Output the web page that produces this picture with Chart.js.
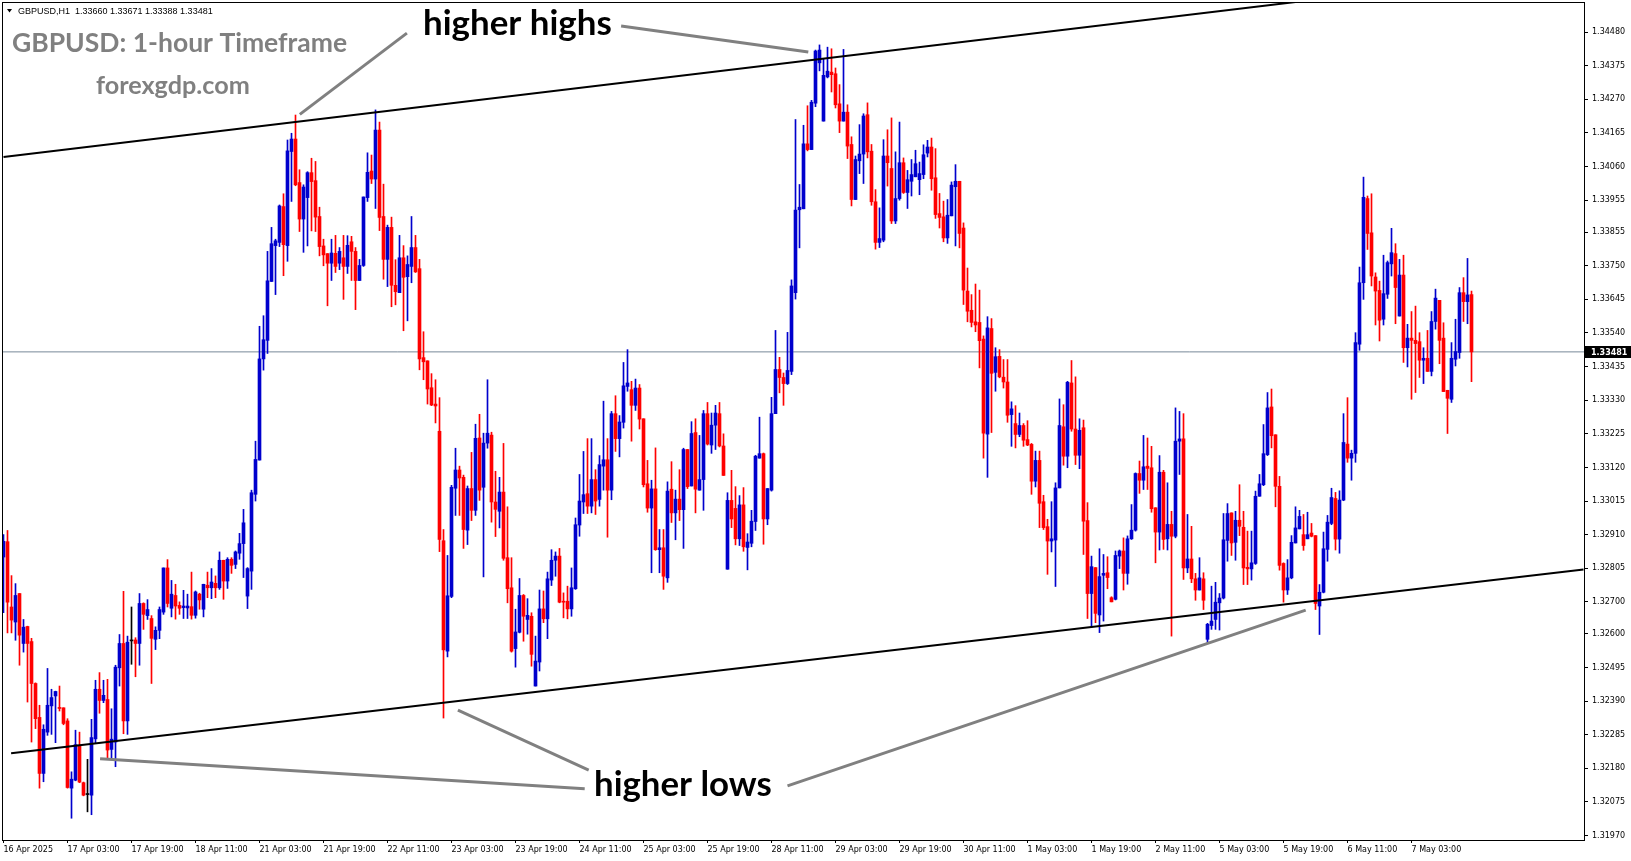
<!DOCTYPE html>
<html>
<head>
<meta charset="utf-8">
<title>GBPUSD H1</title>
<script src="https://cdn.jsdelivr.net/npm/chart.js@4.4.1/dist/chart.umd.min.js"></script>
<style>
  html, body { margin: 0; padding: 0; background: #ffffff; }
  #wrap { width: 1631px; height: 861px; position: relative; }
</style>
</head>
<body>
<div id="wrap"><canvas id="chart"></canvas></div>
<script>
// ---- chart data ----
var symbolName = "GBPUSD";
var timeframe = "H1";
var labelStep = 16; // bars between two time labels

var timeLabels = ["16 Apr 2025", "17 Apr 03:00", "17 Apr 19:00", "18 Apr 11:00", "21 Apr 03:00",
  "21 Apr 19:00", "22 Apr 11:00", "23 Apr 03:00", "23 Apr 19:00", "24 Apr 11:00", "25 Apr 03:00",
  "25 Apr 19:00", "28 Apr 11:00", "29 Apr 03:00", "29 Apr 19:00", "30 Apr 11:00", "1 May 03:00",
  "1 May 19:00", "2 May 11:00", "5 May 03:00", "5 May 19:00", "6 May 11:00", "7 May 03:00"];

var priceTicks = [1.34480, 1.34375, 1.34270, 1.34165, 1.34060, 1.33955, 1.33855, 1.33750, 1.33645,
  1.33540, 1.33435, 1.33330, 1.33225, 1.33120, 1.33015, 1.32910, 1.32805, 1.32700, 1.32600,
  1.32495, 1.32390, 1.32285, 1.32180, 1.32075, 1.31970];

var opens = [
  1.32840,1.32888,1.32684,1.32637,1.32726,1.32570,1.32623,1.32576,1.32445,1.32339,1.32164,1.32293,1.32375,1.32406,1.32369,1.32369,
  1.32328,1.32118,1.32143,1.32250,1.32135,1.32098,1.32096,1.32272,1.32427,1.32392,1.32395,1.32239,1.32262,1.32494,1.32570,1.32328,
  1.32578,1.32581,1.32570,1.32695,1.32657,1.32648,1.32583,1.32611,1.32668,1.32806,1.32680,1.32720,1.32689,1.32682,1.32681,1.32685,
  1.32658,1.32724,1.32677,1.32752,1.32744,1.32758,1.32744,1.32830,1.32765,1.32833,1.32817,1.32852,1.32882,1.32718,1.32796,1.33036,
  1.33143,1.33459,1.33517,1.33701,1.33813,1.33823,1.33935,1.33813,1.34107,1.34146,1.34010,1.33896,1.33963,1.34041,1.34016,1.33904,
  1.33812,1.33788,1.33758,1.33789,1.33758,1.33775,1.33748,1.33825,1.33795,1.33704,1.33751,1.33963,1.34046,1.34021,1.34174,1.33904,
  1.33770,1.33870,1.33689,1.33666,1.33775,1.33716,1.33748,1.33807,1.33741,1.33463,1.33453,1.33369,1.33318,1.33233,1.32891,1.32546,
  1.32717,1.33055,1.33112,1.33089,1.32924,1.33054,1.32986,1.33212,1.33058,1.33196,1.33221,1.33012,1.32983,1.33043,1.32838,1.32744,
  1.32554,1.32605,1.32720,1.32645,1.32655,1.32437,1.32512,1.32678,1.32647,1.32768,1.32830,1.32843,1.32702,1.32702,1.32678,1.32741,
  1.32940,1.33012,1.33038,1.32999,1.33082,1.33020,1.33124,1.33144,1.33049,1.33288,1.33210,1.33261,1.33373,1.33363,1.33314,1.33368,
  1.33272,1.33069,1.32993,1.33053,1.32863,1.32869,1.32775,1.33052,1.32978,1.33021,1.32988,1.33176,1.33062,1.33229,1.33049,1.33082,
  1.33288,1.33190,1.33252,1.33288,1.33187,1.32802,1.33017,1.32992,1.32897,1.33003,1.32870,1.32883,1.32951,1.33149,1.33163,1.32959,
  1.33049,1.33288,1.33426,1.33401,1.33382,1.33420,1.33666,1.33925,1.33928,1.34131,1.34113,1.34258,1.34384,1.34202,1.34340,1.34355,
  1.34350,1.34256,1.34202,1.34230,1.34129,1.33957,1.34078,1.34099,1.34222,1.34108,1.33950,1.33823,1.33830,1.34093,1.34054,1.33890,
  1.33960,1.34072,1.33979,1.34014,1.34028,1.34019,1.34035,1.34102,1.34121,1.34025,1.33913,1.33903,1.33837,1.33906,1.33997,1.34014,
  1.33868,1.33671,1.33611,1.33575,1.33573,1.33521,1.33224,1.33554,1.33417,1.33467,1.33402,1.33387,1.33285,1.33257,1.33223,1.33251,
  1.33207,1.33192,1.33077,1.33142,1.33013,1.32935,1.32890,1.32893,1.33056,1.33247,1.33155,1.33384,1.33240,1.33158,1.33244,1.32954,
  1.32726,1.32807,1.32659,1.32783,1.32791,1.32713,1.32708,1.32843,1.32859,1.32789,1.32897,1.32924,1.33101,1.33080,1.33124,1.33119,
  1.32994,1.32918,1.33105,1.32897,1.32942,1.32905,1.33202,1.33209,1.32806,1.32834,1.32772,1.32737,1.32772,1.32583,1.32626,1.32645,
  1.32697,1.32712,1.32892,1.32978,1.32886,1.32955,1.32933,1.32808,1.32803,1.32820,1.33030,1.33066,1.33160,1.33309,1.33222,1.33061,
  1.32820,1.32737,1.32775,1.32884,1.32928,1.32910,1.32897,1.32915,1.32907,1.32687,1.32730,1.32864,1.32945,1.33023,1.32896,1.33018,
  1.33193,1.33149,1.33164,1.33505,1.33697,1.33960,1.33853,1.33715,1.33673,1.33583,1.33661,1.33756,1.33788,1.33593,1.33721,1.33494,
  1.33524,1.33517,1.33513,1.33455,1.33461,1.33420,1.33576,1.33642,1.33524,1.33361,1.33333,1.33458,1.33479,1.33666,1.33638,1.33660
];

var highs = [
  1.32910,1.32923,1.32782,1.32757,1.32726,1.32645,1.32624,1.32586,1.32447,1.32377,1.32316,1.32492,1.32427,1.32421,1.32437,1.32369,
  1.32335,1.32169,1.32299,1.32293,1.32137,1.32208,1.32333,1.32455,1.32479,1.32455,1.32458,1.32366,1.32502,1.32598,1.32733,1.32593,
  1.32684,1.32588,1.32726,1.32697,1.32707,1.32657,1.32622,1.32684,1.32806,1.32832,1.32767,1.32755,1.32700,1.32736,1.32724,1.32793,
  1.32734,1.32727,1.32755,1.32793,1.32804,1.32781,1.32856,1.32830,1.32838,1.32838,1.32859,1.32914,1.32989,1.32807,1.33049,1.33202,
  1.33561,1.33594,1.33795,1.33870,1.33833,1.33940,1.33975,1.34143,1.34164,1.34221,1.34050,1.34003,1.34044,1.34086,1.34076,1.33933,
  1.33833,1.33788,1.33833,1.33845,1.33807,1.33845,1.33844,1.33842,1.33807,1.33770,1.33965,1.34103,1.34096,1.34237,1.34199,1.34005,
  1.33877,1.33902,1.33769,1.33845,1.33813,1.33781,1.33904,1.33845,1.33770,1.33544,1.33453,1.33413,1.33394,1.33338,1.32926,1.32845,
  1.33064,1.33180,1.33124,1.33096,1.33062,1.33167,1.33255,1.33286,1.33227,1.33394,1.33230,1.33108,1.33089,1.33195,1.32997,1.32838,
  1.32677,1.32773,1.32723,1.32710,1.32666,1.32593,1.32737,1.32734,1.32793,1.32863,1.32856,1.32867,1.32728,1.32749,1.32806,1.32962,
  1.33098,1.33170,1.33210,1.33210,1.33113,1.33157,1.33327,1.33210,1.33295,1.33344,1.33282,1.33448,1.33488,1.33389,1.33396,1.33379,
  1.33272,1.33142,1.33080,1.33181,1.32926,1.32926,1.33075,1.33138,1.33049,1.33113,1.33180,1.33176,1.33263,1.33272,1.33220,1.33298,
  1.33323,1.33290,1.33314,1.33323,1.33225,1.33041,1.33111,1.33060,1.33032,1.33057,1.32913,1.32986,1.33158,1.33277,1.33165,1.33054,
  1.33339,1.33548,1.33464,1.33415,1.33542,1.33706,1.34207,1.34004,1.34189,1.34250,1.34267,1.34424,1.34440,1.34397,1.34433,1.34428,
  1.34368,1.34316,1.34426,1.34253,1.34153,1.34093,1.34191,1.34225,1.34259,1.34129,1.33988,1.33931,1.34144,1.34175,1.34212,1.34106,
  1.34199,1.34087,1.34048,1.34082,1.34111,1.34074,1.34128,1.34142,1.34149,1.34116,1.33976,1.33952,1.33957,1.34012,1.34066,1.34014,
  1.33884,1.33743,1.33660,1.33693,1.33674,1.33531,1.33591,1.33585,1.33494,1.33488,1.33457,1.33457,1.33325,1.33313,1.33290,1.33257,
  1.33266,1.33195,1.33171,1.33171,1.33033,1.32958,1.33013,1.33072,1.33334,1.33316,1.33389,1.33454,1.33403,1.33272,1.33268,1.33010,
  1.32843,1.32807,1.32866,1.32848,1.32841,1.32716,1.32859,1.32862,1.32900,1.32906,1.33004,1.33103,1.33140,1.33220,1.33212,1.33186,
  1.32994,1.33157,1.33111,1.33072,1.32983,1.33306,1.33295,1.33288,1.32973,1.32936,1.32789,1.32838,1.32791,1.32633,1.32749,1.32761,
  1.32726,1.32976,1.33007,1.32978,1.32983,1.33066,1.32983,1.32921,1.32921,1.33046,1.33098,1.33254,1.33354,1.33365,1.33222,1.33092,
  1.32822,1.32832,1.32907,1.32997,1.32986,1.32973,1.32980,1.32945,1.32907,1.32754,1.32918,1.32970,1.33055,1.33042,1.33047,1.33288,
  1.33338,1.33174,1.33541,1.33746,1.34027,1.33968,1.33975,1.33728,1.33702,1.33783,1.33765,1.33867,1.33819,1.33770,1.33783,1.33567,
  1.33607,1.33624,1.33541,1.33494,1.33548,1.33607,1.33677,1.33642,1.33572,1.33361,1.33510,1.33583,1.33682,1.33713,1.33773,1.33671
];

var lows = [
  1.32666,1.32603,1.32603,1.32580,1.32502,1.32543,1.32387,1.32262,1.32304,1.32118,1.32138,1.32283,1.32286,1.32260,1.32359,1.32316,
  1.32118,1.32024,1.32141,1.32135,1.32094,1.32044,1.32035,1.32258,1.32352,1.32385,1.32213,1.32210,1.32185,1.32437,1.32288,1.32286,
  1.32505,1.32466,1.32502,1.32614,1.32645,1.32445,1.32551,1.32585,1.32661,1.32684,1.32653,1.32646,1.32661,1.32648,1.32648,1.32646,
  1.32649,1.32677,1.32653,1.32713,1.32710,1.32713,1.32739,1.32708,1.32742,1.32789,1.32804,1.32833,1.32776,1.32679,1.32739,1.33015,
  1.33143,1.33424,1.33476,1.33701,1.33660,1.33810,1.33719,1.33764,1.33951,1.34000,1.33857,1.33792,1.33812,1.33859,1.33857,1.33781,
  1.33750,1.33625,1.33704,1.33729,1.33738,1.33645,1.33726,1.33704,1.33613,1.33704,1.33748,1.33951,1.34007,1.33929,1.33860,1.33708,
  1.33685,1.33622,1.33628,1.33666,1.33547,1.33578,1.33697,1.33729,1.33425,1.33394,1.33318,1.33313,1.33259,1.32857,1.32337,1.32528,
  1.32713,1.32970,1.32970,1.32867,1.32879,1.32954,1.32970,1.33017,1.32778,1.33180,1.32949,1.32904,1.32931,1.32830,1.32697,1.32543,
  1.32496,1.32603,1.32577,1.32599,1.32499,1.32437,1.32484,1.32635,1.32585,1.32751,1.32780,1.32697,1.32650,1.32647,1.32655,1.32739,
  1.32905,1.32976,1.32976,1.32978,1.32973,1.32999,1.33049,1.32902,1.33019,1.33170,1.33153,1.33243,1.33358,1.33202,1.33298,1.33240,
  1.33059,1.32980,1.32791,1.32861,1.32791,1.32739,1.32761,1.32948,1.32894,1.32954,1.32867,1.33054,1.33062,1.32978,1.33049,1.32986,
  1.33190,1.33164,1.33176,1.33184,1.33095,1.32802,1.32932,1.32878,1.32876,1.32858,1.32800,1.32872,1.32923,1.33149,1.32880,1.32941,
  1.33046,1.33288,1.33353,1.33314,1.33379,1.33410,1.33646,1.33806,1.33928,1.34109,1.34113,1.34247,1.34359,1.34202,1.34337,1.34293,
  1.34243,1.34166,1.34202,1.34085,1.33937,1.33957,1.34038,1.34007,1.34087,1.33939,1.33802,1.33807,1.33825,1.33999,1.33882,1.33882,
  1.33955,1.33976,1.33929,1.33968,1.34028,1.33972,1.34022,1.34090,1.33986,1.33898,1.33868,1.33825,1.33820,1.33906,1.33812,1.33806,
  1.33629,1.33575,1.33559,1.33544,1.33431,1.33149,1.33089,1.33229,1.33358,1.33400,1.33368,1.33261,1.33186,1.33181,1.33216,1.33186,
  1.33188,1.33036,1.33059,1.32932,1.32926,1.32786,1.32856,1.32748,1.33056,1.33127,1.33119,1.33233,1.33129,1.33116,1.32848,1.32648,
  1.32620,1.32635,1.32604,1.32640,1.32741,1.32700,1.32706,1.32804,1.32737,1.32755,1.32895,1.32921,1.33039,1.33051,1.33051,1.32980,
  1.32822,1.32862,1.32864,1.32862,1.32593,1.32900,1.33098,1.32770,1.32791,1.32760,1.32705,1.32737,1.32676,1.32572,1.32614,1.32614,
  1.32612,1.32709,1.32827,1.32845,1.32830,1.32907,1.32754,1.32754,1.32768,1.32817,1.33030,1.33063,1.33157,1.33181,1.32997,1.32799,
  1.32699,1.32723,1.32772,1.32884,1.32928,1.32861,1.32897,1.32903,1.32676,1.32598,1.32728,1.32827,1.32941,1.32862,1.32852,1.33016,
  1.33136,1.33080,1.33136,1.33486,1.33645,1.33801,1.33687,1.33565,1.33515,1.33565,1.33648,1.33718,1.33569,1.33593,1.33448,1.33434,
  1.33333,1.33354,1.33401,1.33382,1.33420,1.33406,1.33552,1.33444,1.33357,1.33226,1.33323,1.33437,1.33461,1.33576,1.33569,1.33388
];

var closes = [
  1.32889,1.32699,1.32643,1.32720,1.32596,1.32621,1.32570,1.32445,1.32335,1.32164,1.32302,1.32377,1.32401,1.32420,1.32367,1.32320,
  1.32120,1.32146,1.32254,1.32137,1.32096,1.32098,1.32276,1.32427,1.32392,1.32408,1.32237,1.32271,1.32496,1.32570,1.32328,1.32574,
  1.32578,1.32570,1.32695,1.32661,1.32676,1.32586,1.32611,1.32676,1.32806,1.32695,1.32724,1.32687,1.32680,1.32687,1.32687,1.32658,
  1.32731,1.32706,1.32755,1.32744,1.32762,1.32744,1.32830,1.32765,1.32833,1.32814,1.32856,1.32882,1.32947,1.32804,1.33041,1.33145,
  1.33459,1.33519,1.33703,1.33819,1.33828,1.33937,1.33816,1.34109,1.34146,1.34003,1.33896,1.33996,1.34041,1.34013,1.33902,1.33810,
  1.33784,1.33758,1.33790,1.33748,1.33795,1.33748,1.33814,1.33795,1.33704,1.33751,1.33965,1.34042,1.34021,1.34174,1.33901,1.33770,
  1.33870,1.33689,1.33669,1.33775,1.33714,1.33754,1.33807,1.33731,1.33459,1.33450,1.33365,1.33315,1.33312,1.32895,1.32550,1.32719,
  1.33058,1.33112,1.33087,1.32926,1.33054,1.32986,1.33211,1.33049,1.33196,1.33227,1.33012,1.32989,1.33043,1.32836,1.32741,1.32546,
  1.32606,1.32720,1.32655,1.32658,1.32536,1.32515,1.32678,1.32647,1.32772,1.32830,1.32843,1.32699,1.32699,1.32678,1.32744,1.32941,
  1.33015,1.33035,1.32999,1.33082,1.33015,1.33129,1.33144,1.33049,1.33288,1.33210,1.33262,1.33375,1.33384,1.33314,1.33368,1.33271,
  1.33066,1.32993,1.33053,1.32863,1.32869,1.32780,1.33046,1.32978,1.33021,1.32988,1.33176,1.33060,1.33226,1.33052,1.33082,1.33288,
  1.33193,1.33252,1.33290,1.33187,1.33095,1.33017,1.32959,1.32897,1.33003,1.32872,1.32887,1.32952,1.33155,1.33163,1.32959,1.33054,
  1.33288,1.33426,1.33401,1.33382,1.33423,1.33687,1.33924,1.33933,1.34131,1.34113,1.34261,1.34421,1.34424,1.34345,1.34358,1.34347,
  1.34253,1.34202,1.34230,1.34124,1.33957,1.34082,1.34099,1.34218,1.34106,1.33950,1.33823,1.33835,1.34093,1.34072,1.33890,1.33960,
  1.34072,1.33979,1.34019,1.34035,1.34069,1.34038,1.34097,1.34121,1.34022,1.33910,1.33901,1.33837,1.33908,1.34002,1.34014,1.33851,
  1.33674,1.33608,1.33573,1.33565,1.33516,1.33227,1.33556,1.33414,1.33466,1.33403,1.33387,1.33283,1.33303,1.33223,1.33251,1.33205,
  1.33190,1.33077,1.33142,1.33008,1.32932,1.32890,1.32897,1.33056,1.33251,1.33155,1.33386,1.33240,1.33158,1.33236,1.32952,1.32726,
  1.32810,1.32664,1.32779,1.32789,1.32776,1.32700,1.32845,1.32859,1.32789,1.32897,1.32924,1.33101,1.33080,1.33122,1.33117,1.32991,
  1.32918,1.33105,1.32895,1.32942,1.32905,1.33202,1.33209,1.32806,1.32834,1.32772,1.32737,1.32775,1.32705,1.32630,1.32640,1.32699,
  1.32712,1.32894,1.32976,1.32884,1.32955,1.32936,1.32806,1.32803,1.32822,1.33030,1.33069,1.33163,1.33306,1.33219,1.33061,1.32814,
  1.32737,1.32775,1.32886,1.32931,1.32967,1.32876,1.32910,1.32905,1.32695,1.32730,1.32866,1.32949,1.33026,1.32896,1.33018,1.33198,
  1.33149,1.33164,1.33510,1.33697,1.33964,1.33851,1.33718,1.33671,1.33580,1.33663,1.33760,1.33791,1.33682,1.33721,1.33494,1.33524,
  1.33517,1.33507,1.33455,1.33461,1.33420,1.33576,1.33649,1.33517,1.33357,1.33336,1.33461,1.33482,1.33666,1.33638,1.33659,1.33481
];

// channel lines: [bar index, price]
var upperChannel = [[0, 1.34090], [395, 1.34682]];
var lowerChannel = [[1.9, 1.32227], [395, 1.32801]];

// grey pointer lines: [bar index, price] pairs
var pointerLines = [
  [[100.85, 1.34477], [74.08, 1.34223]],
  [[154.4, 1.34499], [201.2, 1.34418]],
  [[113.6, 1.32362], [146.3, 1.32174]],
  [[24.15, 1.32210], [145.3, 1.32116]],
  [[196.0, 1.32125], [325.55, 1.32674]]
];

// ---- build datasets ----
var last = closes.length - 1;
var lastPrice = closes[last];

function candleColor(i) {
  if (closes[i] > opens[i]) return "#0000cd";
  if (closes[i] < opens[i]) return "#ff0000";
  return "#000000";
}
var colors = opens.map(function (o, i) { return candleColor(i); });

var wickData = opens.map(function (o, i) { return { x: i, y: [lows[i], highs[i]] }; });
var bodyData = opens.map(function (o, i) { return { x: i, y: [o, closes[i]] }; });

function toPoints(pairs) {
  return pairs.map(function (p) { return { x: p[0], y: p[1] }; });
}

var datasets = [
  {
    type: "line",
    data: [{ x: -1, y: lastPrice }, { x: 400, y: lastPrice }],
    borderColor: "#778899",
    borderWidth: 1,
    pointRadius: 0,
    order: 5
  },
  {
    type: "bar",
    data: wickData,
    backgroundColor: colors,
    barThickness: 1,
    grouped: false,
    order: 4
  },
  {
    type: "bar",
    data: bodyData,
    backgroundColor: colors,
    barThickness: 3,
    minBarLength: 1,
    grouped: false,
    order: 3
  },
  {
    type: "line",
    data: toPoints(upperChannel),
    borderColor: "#000000",
    borderWidth: 2,
    pointRadius: 0,
    order: 2
  },
  {
    type: "line",
    data: toPoints(lowerChannel),
    borderColor: "#000000",
    borderWidth: 2,
    pointRadius: 0,
    order: 2
  }
];

pointerLines.forEach(function (seg) {
  datasets.push({
    type: "line",
    data: toPoints(seg),
    borderColor: "#808080",
    borderWidth: 3,
    pointRadius: 0,
    order: 1
  });
});

// ---- texts on the chart ----
var headerText = symbolName + "," + timeframe + "  " + opens[last].toFixed(5) + " " +
  highs[last].toFixed(5) + " " + lows[last].toFixed(5) + " " + closes[last].toFixed(5);

var bigTexts = [
  { text: "GBPUSD: 1-hour Timeframe", x: 12, y: 52, width: 335, color: "#808080" },
  { text: "forexgdp.com", x: 96, y: 94, width: 154, color: "#808080" },
  { text: "higher highs", x: 423, y: 35, width: 189, color: "#000000" },
  { text: "higher lows", x: 594, y: 796, width: 178, color: "#000000" }
];

function fitFont(ctx, text, width) {
  ctx.font = "bold 100px Lato";
  var size = 100 * width / ctx.measureText(text).width;
  return "bold " + size.toFixed(1) + "px Lato";
}

var decorPlugin = {
  id: "decor",
  afterDatasetsDraw: function (chart) {
    var ctx = chart.ctx;
    var a = chart.chartArea;
    var yScale = chart.scales.y;
    ctx.save();

    // frame round the plot
    ctx.strokeStyle = "#000000";
    ctx.lineWidth = 1;
    ctx.strokeRect(a.left - 0.5, a.top - 0.5, a.right - a.left + 1, a.bottom - a.top + 1);

    // header line
    ctx.fillStyle = "#000000";
    ctx.beginPath();
    ctx.moveTo(7, 9);
    ctx.lineTo(12, 9);
    ctx.lineTo(9.5, 12.5);
    ctx.closePath();
    ctx.fill();
    ctx.font = "9px 'Liberation Sans'";
    ctx.textBaseline = "alphabetic";
    ctx.textAlign = "left";
    ctx.fillText(headerText, 18, 14);

    // big labels
    bigTexts.forEach(function (t) {
      ctx.font = fitFont(ctx, t.text, t.width);
      ctx.fillStyle = t.color;
      ctx.fillText(t.text, t.x, t.y);
    });

    // current price box on the axis
    var py = Math.round(yScale.getPixelForValue(lastPrice));
    ctx.fillStyle = "#000000";
    ctx.fillRect(a.right + 1, py - 6, chart.width - a.right - 1, 12);
    ctx.fillStyle = "#ffffff";
    ctx.font = "bold 8px 'DejaVu Sans'";
    ctx.textBaseline = "middle";
    ctx.fillText(lastPrice.toFixed(5), a.right + 7, py + 0.5);
    ctx.restore();
  }
};

var axisFont = { family: "DejaVu Sans", size: 8 };

new Chart(document.getElementById("chart").getContext("2d"), {
  type: "bar",
  data: { datasets: datasets },
  options: {
    responsive: true,
    maintainAspectRatio: false,
    devicePixelRatio: 1,
    animation: false,
    events: [],
    layout: { padding: { left: 3, top: 3, right: 0, bottom: 0 } },
    plugins: {
      legend: { display: false },
      tooltip: { enabled: false }
    },
    scales: {
      x: {
        type: "linear",
        min: -0.125,
        max: 395.125,
        offset: false,
        afterBuildTicks: function (scale) {
          scale.ticks = timeLabels.map(function (t, k) { return { value: k * labelStep }; });
        },
        afterFit: function (scale) {
          scale.height = 21;
          scale.paddingLeft = 0;
          scale.paddingRight = 0;
        },
        ticks: {
          autoSkip: false,
          maxRotation: 0,
          align: "start",
          padding: 2,
          color: "#000000",
          font: axisFont,
          callback: function (v, idx) { return timeLabels[idx]; }
        },
        grid: { drawOnChartArea: false, offset: false, tickLength: 3, color: "#000000", tickColor: "#000000" },
        border: { display: false }
      },
      y: {
        type: "linear",
        position: "right",
        min: 1.31956,
        max: 1.34571,
        afterBuildTicks: function (scale) {
          scale.ticks = priceTicks.map(function (v) { return { value: v }; });
        },
        afterFit: function (scale) {
          scale.width = 47;
          scale.paddingTop = 0;
          scale.paddingBottom = 0;
        },
        ticks: {
          autoSkip: false,
          padding: 4,
          color: "#000000",
          font: axisFont,
          callback: function (v) { return v.toFixed(5); }
        },
        grid: { drawOnChartArea: false, tickLength: 4, color: "#000000", tickColor: "#000000" },
        border: { display: false }
      }
    }
  },
  plugins: [decorPlugin]
});
</script>
</body>
</html>
